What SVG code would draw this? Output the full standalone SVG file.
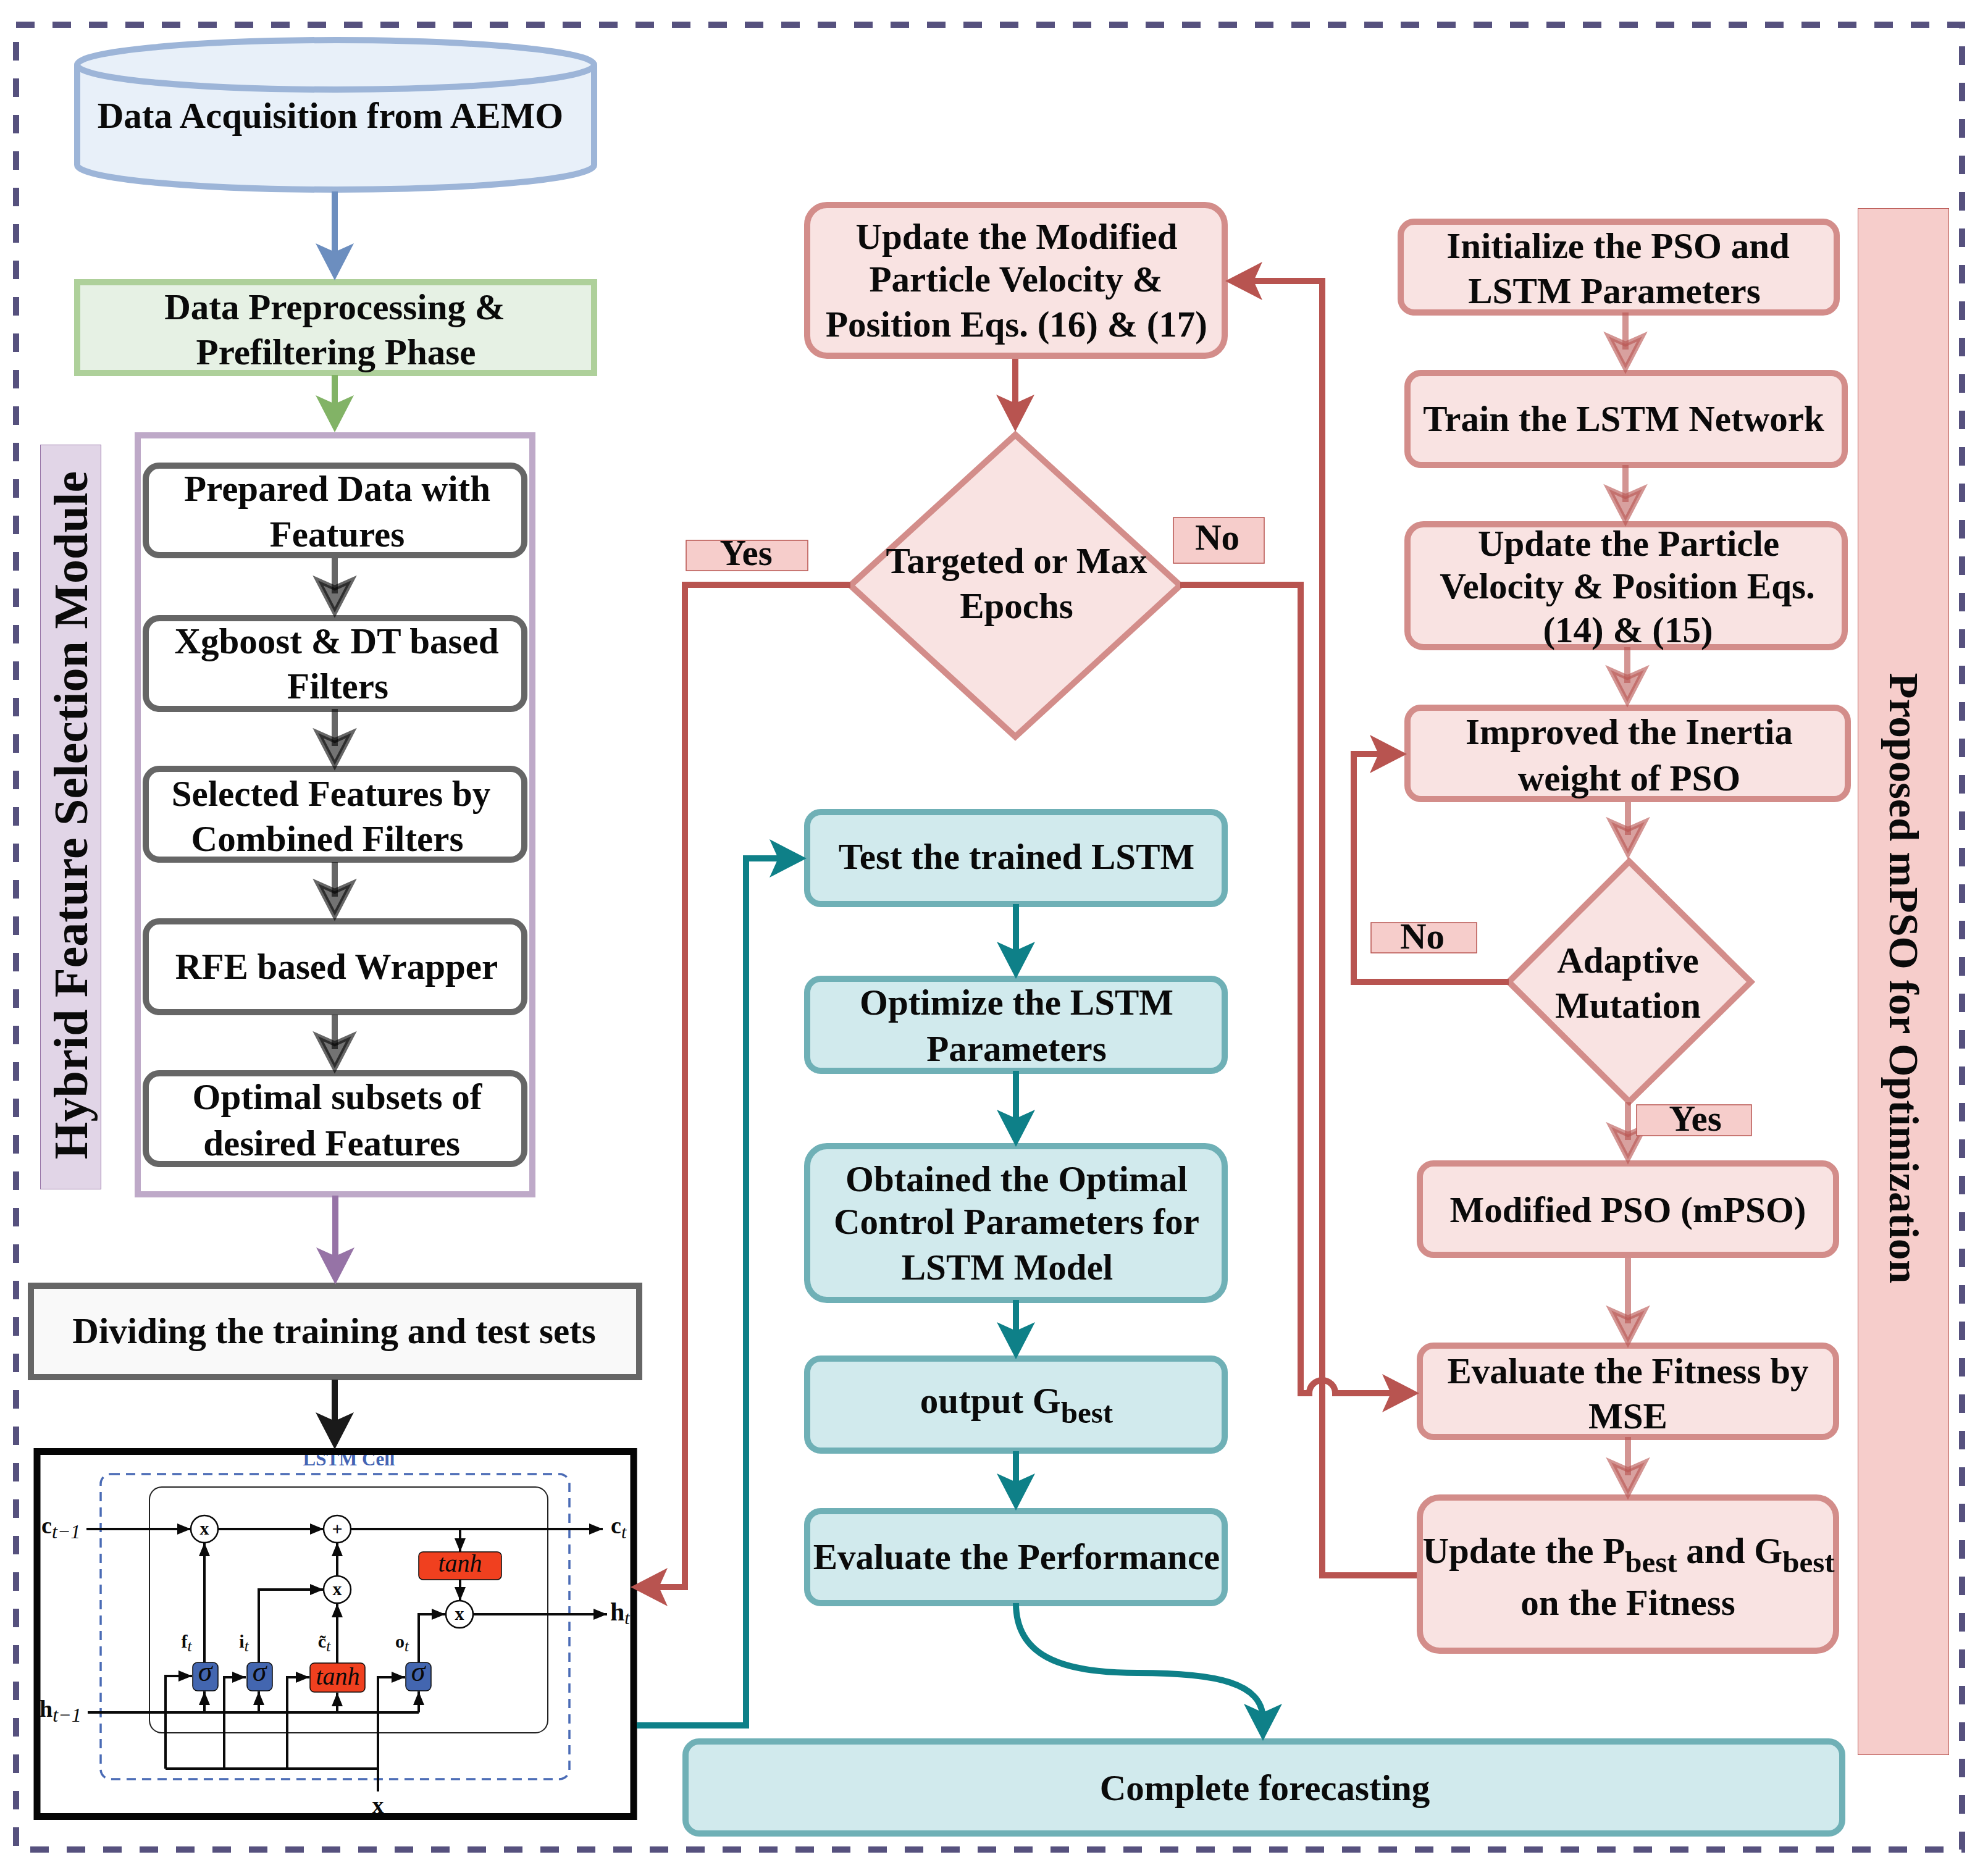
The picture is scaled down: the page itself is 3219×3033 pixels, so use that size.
<svg xmlns="http://www.w3.org/2000/svg" width="3219" height="3033" viewBox="0 0 3219 3033">
<style>
text{font-family:"Liberation Serif","Times New Roman",serif;font-weight:700;font-size:59px;fill:#0a0a0a;text-anchor:middle}
.sub{font-size:49px}
.pk{fill:#f9e3e2;stroke:#d38d8a;stroke-width:10}
.tl{fill:#d1eaed;stroke:#6fb0b6;stroke-width:10}
.gy{fill:#fff;stroke:#666;stroke-width:10}
.lb{fill:#f6cdcb;stroke:#b85450;stroke-width:1.5}
.c{fill:none;stroke-width:10}
.red{stroke:#b85450}.teal{stroke:#0e8088}
.pl{stroke:#b85450;stroke-opacity:.62}.gl{stroke:#000;stroke-opacity:.6}
.m{fill:none;stroke:#0a0a0a;stroke-width:4}
.o{fill:#fff;stroke:#0a0a0a;stroke-width:2.5}
.bl{fill:#4366b0;stroke:#0a0a0a;stroke-width:1.5}
.rd{fill:#f0401f;stroke:#0a0a0a;stroke-width:1.5}
.t1{font-size:30px}.t2{font-size:40px;font-style:italic;font-weight:400}
.t3{font-size:38px}.t4{font-size:30px}.si{font-size:25px;font-style:italic;font-weight:400}.sl{font-size:32px;font-style:italic;font-weight:400}
</style>
<defs>
<marker id="aB" markerUnits="userSpaceOnUse" markerWidth="62" markerHeight="64" refX="25" refY="32" orient="auto" overflow="visible"><path d="M60,32 L0,1 L14,32 L0,63 Z" fill="#6c8ebf"/></marker>
<marker id="aG" markerUnits="userSpaceOnUse" markerWidth="62" markerHeight="64" refX="25" refY="32" orient="auto" overflow="visible"><path d="M60,32 L0,1 L14,32 L0,63 Z" fill="#82b366"/></marker>
<marker id="aP" markerUnits="userSpaceOnUse" markerWidth="62" markerHeight="64" refX="25" refY="32" orient="auto" overflow="visible"><path d="M60,32 L0,1 L14,32 L0,63 Z" fill="#9673a6"/></marker>
<marker id="aK" markerUnits="userSpaceOnUse" markerWidth="62" markerHeight="64" refX="25" refY="32" orient="auto" overflow="visible"><path d="M60,32 L0,1 L14,32 L0,63 Z" fill="#1a1a1a"/></marker>
<marker id="aR" markerUnits="userSpaceOnUse" markerWidth="62" markerHeight="64" refX="25" refY="32" orient="auto" overflow="visible"><path d="M60,32 L0,1 L14,32 L0,63 Z" fill="#b85450"/></marker>
<marker id="aT" markerUnits="userSpaceOnUse" markerWidth="62" markerHeight="64" refX="25" refY="32" orient="auto" overflow="visible"><path d="M60,32 L0,1 L14,32 L0,63 Z" fill="#0e8088"/></marker>
<marker id="aPk" markerUnits="userSpaceOnUse" markerWidth="62" markerHeight="64" refX="25" refY="32" orient="auto" overflow="visible"><path d="M56,32 L4,5 L16,32 L4,59 Z" fill="#b85450" fill-opacity=".55" stroke="#b85450" stroke-opacity=".62" stroke-width="8"/></marker>
<marker id="aGy" markerUnits="userSpaceOnUse" markerWidth="62" markerHeight="64" refX="25" refY="32" orient="auto" overflow="visible"><path d="M56,32 L4,5 L16,32 L4,59 Z" fill="#000" fill-opacity=".55" stroke="#000" stroke-opacity=".6" stroke-width="8"/></marker>
<marker id="mi" markerUnits="userSpaceOnUse" markerWidth="22" markerHeight="18" refX="22" refY="9" orient="auto" overflow="visible"><path d="M22,9 L0,0 V18 Z" fill="#0a0a0a"/></marker>
</defs>
<rect width="3219" height="3033" fill="#fff"/>
<rect id="frame" x="26" y="40" width="3151" height="2955" fill="none" stroke="#56517e" stroke-width="10" stroke-dasharray="30 29"/>

<g id="band-hybrid"><rect x="65.500" y="720.500" width="98" height="1205" fill="#e1d5e7" stroke="#9673a6" stroke-width="1"/><text transform="translate(141 1320) rotate(-90)" style="font-size:78px">Hybrid Feature Selection Module</text></g>
<g id="band-mpso"><rect x="3008.500" y="337.500" width="147" height="2504" fill="#f6cdcb" stroke="#b85450" stroke-width="1"/><text transform="translate(3060 1584) rotate(90)" style="font-size:68.500px">Proposed mPSO for Optimization</text></g>

<g id="n-aemo"><path d="M125,105 C125,83 312,65 543.500,65 C775,65 962,83 962,105 V267 C962,289 775,307 543.500,307 C312,307 125,289 125,267 Z" fill="#e8f0f9" stroke="#9db5d8" stroke-width="10"/><path d="M125,105 C125,127 312,145 543.500,145 C775,145 962,127 962,105" fill="none" stroke="#9db5d8" stroke-width="10"/><text x="535" y="207">Data Acquisition from AEMO</text></g>
<g id="n-prep"><rect x="125" y="457" width="837" height="147" fill="#e6f1e4" stroke="#aed09a" stroke-width="10"/><text x="542" y="517">Data Preprocessing &amp;</text><text x="544" y="590">Prefiltering Phase</text></g>
<rect id="n-hybrid-box" x="223" y="705" width="639" height="1229" fill="#fff" stroke="#bea9c8" stroke-width="10"/>
<g id="n-prepared"><rect class="gy" x="236" y="754" width="613" height="145" rx="22"/><text x="546" y="811">Prepared Data with</text><text x="546" y="885">Features</text></g>
<g id="n-xgb"><rect class="gy" x="236" y="1001" width="613" height="147" rx="22"/><text x="545" y="1058">Xgboost &amp; DT based</text><text x="547" y="1131">Filters</text></g>
<g id="n-selected"><rect class="gy" x="236" y="1245" width="613" height="147" rx="22"/><text x="536" y="1305">Selected Features by</text><text x="530" y="1378">Combined Filters</text></g>
<g id="n-rfe"><rect class="gy" x="236" y="1492" width="613" height="147" rx="22"/><text x="545" y="1585">RFE based Wrapper</text></g>
<g id="n-optimal"><rect class="gy" x="236" y="1738" width="613" height="147" rx="22"/><text x="546" y="1796">Optimal subsets of</text><text x="537" y="1871">desired Features</text></g>
<g id="n-divide"><rect x="50" y="2082" width="985" height="148" fill="#f9f9f9" stroke="#666" stroke-width="10"/><text x="541" y="2175">Dividing the training and test sets</text></g>

<g id="n-lstm">
<rect x="60" y="2350.500" width="966" height="591" fill="#fff"/>
<text x="565" y="2373" style="font-size:31px;fill:#4464b4">LSTM Cell</text>
<rect x="163" y="2387" width="759" height="494" rx="16" fill="none" stroke="#4a6bb5" stroke-width="3.500" stroke-dasharray="15 10"/>
<rect x="242" y="2408" width="645" height="398" rx="20" fill="none" stroke="#222" stroke-width="2"/>
<path class="m" d="M140,2476 H309" marker-end="url(#mi)"/>
<path class="m" d="M354,2476 H524" marker-end="url(#mi)"/>
<path class="m" d="M568,2476 H976" marker-end="url(#mi)"/>
<path class="m" d="M745,2476 V2513" marker-end="url(#mi)"/>
<path class="m" d="M745,2558 V2592" marker-end="url(#mi)"/>
<path class="m" d="M766,2614 H983" marker-end="url(#mi)"/>
<path class="m" d="M546,2552 V2498" marker-end="url(#mi)"/>
<path class="m" d="M546,2693 V2597" marker-end="url(#mi)"/>
<path class="m" d="M331,2692 V2498" marker-end="url(#mi)"/>
<path class="m" d="M419,2692 V2574 H524" marker-end="url(#mi)"/>
<path class="m" d="M678,2692 V2614 H721" marker-end="url(#mi)"/>
<path class="m" d="M142,2773 H678"/>
<path class="m" d="M331,2773 V2739" marker-end="url(#mi)"/>
<path class="m" d="M419,2773 V2739" marker-end="url(#mi)"/>
<path class="m" d="M546,2773 V2741" marker-end="url(#mi)"/>
<path class="m" d="M678,2773 V2739" marker-end="url(#mi)"/>
<path class="m" d="M268,2864 H612 M612,2901 V2864"/>
<path class="m" d="M268,2864 V2714 H311" marker-end="url(#mi)"/>
<path class="m" d="M363,2864 V2716 H398" marker-end="url(#mi)"/>
<path class="m" d="M465,2864 V2716 H501" marker-end="url(#mi)"/>
<path class="m" d="M612,2864 V2716 H656" marker-end="url(#mi)"/>
<circle class="o" cx="331" cy="2476" r="22"/><circle class="o" cx="546" cy="2476" r="22"/><circle class="o" cx="546" cy="2574" r="22"/><circle class="o" cx="744" cy="2614" r="22"/>
<text class="t1" x="331" y="2485">x</text><text class="t1" x="546" y="2486">+</text><text class="t1" x="546" y="2583">x</text><text class="t1" x="744" y="2623">x</text>
<rect class="bl" x="312" y="2692" width="41" height="46" rx="8"/><rect class="bl" x="400" y="2692" width="41" height="46" rx="8"/><rect class="bl" x="657" y="2692" width="41" height="46" rx="8"/>
<rect class="rd" x="502" y="2693" width="89" height="47" rx="7"/><rect class="rd" x="678" y="2513" width="134" height="45" rx="7"/>
<text class="t2" x="332" y="2722" style="font-size:46px">σ</text><text class="t2" x="420" y="2722" style="font-size:46px">σ</text><text class="t2" x="677" y="2722" style="font-size:46px">σ</text>
<text class="t2" x="547" y="2728">tanh</text><text class="t2" x="745" y="2545">tanh</text>
<text class="t4" x="302" y="2668">f<tspan class="si" dy="6">t</tspan></text>
<text class="t4" x="395" y="2668">i<tspan class="si" dy="6">t</tspan></text>
<text class="t4" x="525" y="2668">c̃<tspan class="si" dy="6">t</tspan></text>
<text class="t4" x="651" y="2668">o<tspan class="si" dy="6">t</tspan></text>
<text class="t3" style="text-anchor:start" x="67" y="2483">c<tspan class="sl" dy="8">t−1</tspan></text>
<text class="t3" style="text-anchor:start" x="64" y="2780">h<tspan class="sl" dy="8">t−1</tspan></text>
<text class="t3" style="text-anchor:start" x="989" y="2483">c<tspan class="si" dy="8" style="font-size:30px">t</tspan></text>
<text class="t3" style="text-anchor:start;font-size:42px" x="988" y="2624">h<tspan class="si" dy="6" style="font-size:30px">t</tspan></text>
<text class="t3" x="612" y="2936">x</text>
<rect x="60" y="2350.500" width="966" height="591" fill="none" stroke="#050505" stroke-width="11"/>
</g>

<g id="n-update-mod"><rect class="pk" x="1307" y="332" width="676" height="244" rx="32"/><text x="1646" y="403">Update the Modified</text><text x="1645" y="472">Particle Velocity &amp;</text><text x="1646" y="545">Position Eqs. (16) &amp; (17)</text></g>
<g id="n-target"><path class="pk" d="M1644,704 L1911,948 L1644,1193 L1377,948 Z"/><text x="1646" y="928">Targeted or Max</text><text x="1646" y="1001">Epochs</text></g>
<g id="n-test"><rect class="tl" x="1307" y="1315" width="676" height="149" rx="22"/><text x="1646" y="1407">Test the trained LSTM</text></g>
<g id="n-optimize"><rect class="tl" x="1307" y="1585" width="676" height="149" rx="22"/><text x="1646" y="1643">Optimize the LSTM</text><text x="1646" y="1718">Parameters</text></g>
<g id="n-obtained"><rect class="tl" x="1307" y="1856" width="676" height="249" rx="32"/><text x="1646" y="1929">Obtained the Optimal</text><text x="1646" y="1998">Control Parameters for</text><text x="1631" y="2072">LSTM Model</text></g>
<g id="n-output"><rect class="tl" x="1307" y="2200" width="676" height="149" rx="22"/><text x="1646" y="2288">output G<tspan class="sub" dy="16">best</tspan></text></g>
<g id="n-evalperf"><rect class="tl" x="1307" y="2447" width="676" height="149" rx="22"/><text x="1646" y="2541">Evaluate the Performance</text></g>
<g id="n-complete"><rect class="tl" x="1110" y="2820" width="1873" height="149" rx="22"/><text x="2048" y="2915">Complete forecasting</text></g>

<g id="n-init"><rect class="pk" x="2268" y="359" width="706" height="147" rx="22"/><text x="2620" y="418">Initialize the PSO and</text><text x="2614" y="491">LSTM Parameters</text></g>
<g id="n-train"><rect class="pk" x="2279" y="604" width="708" height="149" rx="22"/><text x="2629" y="698">Train the LSTM Network</text></g>
<g id="n-updpart"><rect class="pk" x="2279" y="849" width="708" height="199" rx="26"/><text x="2637" y="900">Update the Particle</text><text x="2635" y="969">Velocity &amp; Position Eqs.</text><text x="2636" y="1040">(14) &amp; (15)</text></g>
<g id="n-improved"><rect class="pk" x="2279" y="1146" width="713" height="148" rx="22"/><text x="2638" y="1205">Improved the Inertia</text><text x="2638" y="1280">weight of PSO</text></g>
<g id="n-mutation"><path class="pk" d="M2638,1395 L2835,1590 L2638,1784 L2443,1590 Z"/><text x="2636" y="1575">Adaptive</text><text x="2636" y="1648">Mutation</text></g>
<g id="n-mpso"><rect class="pk" x="2299" y="1884" width="674" height="148" rx="22"/><text x="2636" y="1979">Modified PSO (mPSO)</text></g>
<g id="n-fitness"><rect class="pk" x="2299" y="2179" width="674" height="148" rx="22"/><text x="2636" y="2240">Evaluate the Fitness by</text><text x="2636" y="2313">MSE</text></g>
<g id="n-pbest"><rect class="pk" x="2299" y="2425" width="674" height="248" rx="32"/><text x="2637" y="2531">Update the P<tspan class="sub" dy="15">best</tspan><tspan dy="-15"> and G</tspan><tspan class="sub" dy="15">best</tspan></text><text x="2636" y="2615">on the Fitness</text></g>

<g id="connectors">
<path class="c" stroke="#6c8ebf" d="M542,310 V419" marker-end="url(#aB)"/>
<path class="c" stroke="#82b366" d="M542,607 V665" marker-end="url(#aG)"/>
<path class="c gl" d="M542,904 V961" marker-end="url(#aGy)"/>
<path class="c gl" d="M542,1148 V1208" marker-end="url(#aGy)"/>
<path class="c gl" d="M542,1396 V1452" marker-end="url(#aGy)"/>
<path class="c gl" d="M542,1643 V1699" marker-end="url(#aGy)"/>
<path class="c" stroke="#9673a6" d="M543,1936 V2045" marker-end="url(#aP)"/>
<path class="c" stroke="#1a1a1a" d="M542,2234 V2312" marker-end="url(#aK)"/>
<path class="c red" d="M1644,581 V664" marker-end="url(#aR)"/>
<path class="c red" d="M1377,947 H1109 V2570 H1056" marker-end="url(#aR)"/>
<path class="c red" d="M1911,947 H2106 V2256 H2120 A21,21 0 0 1 2162,2256 H2263" marker-end="url(#aR)"/>
<path class="c red" d="M2294,2551 H2141 V455 H2019" marker-end="url(#aR)"/>
<path class="c red" d="M2443,1590 H2192 V1221 H2243" marker-end="url(#aR)"/>
<path class="c pl" d="M2632,506 V566" marker-end="url(#aPk)"/>
<path class="c pl" d="M2632,753 V813" marker-end="url(#aPk)"/>
<path class="c pl" d="M2635,1048 V1106" marker-end="url(#aPk)"/>
<path class="c pl" d="M2636,1299 V1352" marker-end="url(#aPk)"/>
<path class="c pl" d="M2636,1785 V1846" marker-end="url(#aPk)"/>
<path class="c pl" d="M2636,2037 V2143" marker-end="url(#aPk)"/>
<path class="c pl" d="M2636,2327 V2389" marker-end="url(#aPk)"/>
<path class="c teal" d="M1645,1464 V1550" marker-end="url(#aT)"/>
<path class="c teal" d="M1645,1734 V1822" marker-end="url(#aT)"/>
<path class="c teal" d="M1645,2105 V2166" marker-end="url(#aT)"/>
<path class="c teal" d="M1645,2350 V2411" marker-end="url(#aT)"/>
<path class="c teal" d="M1031,2794 H1208 V1390 H1271" marker-end="url(#aT)"/>
<path class="c teal" d="M1645,2596 C1645,2680 1715,2709 1842,2709 C1970,2709 2045,2725 2045,2784" marker-end="url(#aT)"/>
</g>

<g id="l-yes1"><rect class="lb" x="1111" y="875" width="197" height="49"/><text x="1208" y="915">Yes</text></g>
<g id="l-no1"><rect class="lb" x="1900" y="838" width="147" height="74"/><text x="1971" y="890">No</text></g>
<g id="l-no2"><rect class="lb" x="2220" y="1494" width="171" height="49"/><text x="2303" y="1536">No</text></g>
<g id="l-yes2"><rect class="lb" x="2650" y="1789" width="186" height="50"/><text x="2745" y="1831">Yes</text></g>
</svg>
